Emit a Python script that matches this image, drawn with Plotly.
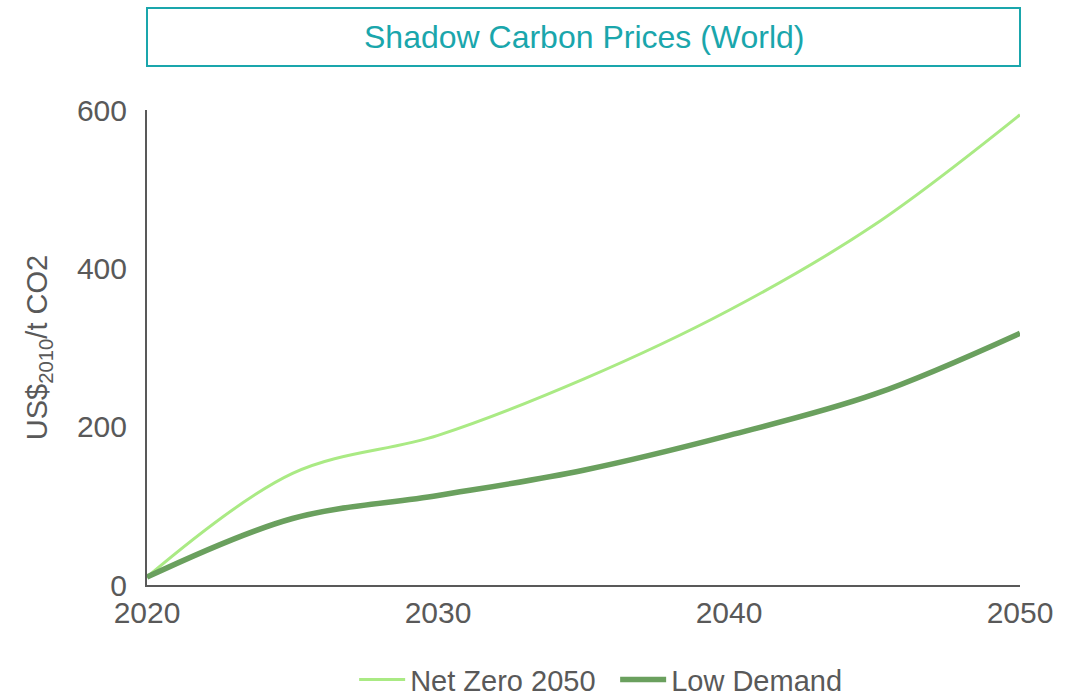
import plotly.graph_objects as go

# Shadow carbon prices, US$2010 per tonne CO2, world average
years = [2020, 2025, 2030, 2035, 2040, 2045, 2050]
net_zero_2050 = [10, 141, 189, 260, 347, 455, 594]
low_demand = [10, 84, 113, 145, 189, 241, 318]

x_ticks = [2020, 2030, 2040, 2050]
y_ticks = [0, 200, 400, 600]

FONT = "Liberation Sans, Arial, sans-serif"
GREY = "#595959"
TEAL = "#1AA6AC"

fig = go.Figure()
fig.add_trace(go.Scatter(
    x=years, y=net_zero_2050, name="Net Zero 2050", mode="lines",
    line=dict(color="#AAEA84", width=3, shape="spline", smoothing=1.0),
))
fig.add_trace(go.Scatter(
    x=years, y=low_demand, name="Low Demand", mode="lines",
    line=dict(color="#6AA05E", width=5.5, shape="spline", smoothing=1.0),
))

fig.update_layout(
    width=1083, height=697,
    margin=dict(l=147, r=63, t=110, b=112, autoexpand=False),
    plot_bgcolor="white", paper_bgcolor="white",
    font=dict(family=FONT, color=GREY, size=29),
    showlegend=True,
    legend=dict(orientation="h", x=0.568, xanchor="center", xref="container",
                y=0.025, yanchor="middle", yref="container",
                font=dict(size=29, color=GREY), itemwidth=46,
                entrywidth=200, entrywidthmode="pixels", tracegroupgap=0),
    xaxis=dict(range=[2020, 2050], tickvals=x_ticks, showgrid=False, zeroline=False,
               showline=True, linecolor=GREY, linewidth=2, ticks="",
               ticklabelstandoff=0, tickfont=dict(size=30, color=GREY)),
    yaxis=dict(range=[0, 600], tickvals=y_ticks, showgrid=False, zeroline=False,
               showline=True, linecolor=GREY, linewidth=2, ticks="",
               ticklabelstandoff=12, tickfont=dict(size=30, color=GREY),
               title=dict(text="US$<sub>2010</sub>/t CO2", standoff=21,
                          font=dict(size=29, color=GREY))),
    shapes=[dict(type="rect", xref="paper", yref="paper", x0=0, x1=1,
                 y0=1.0926, y1=1.2147, line=dict(color=TEAL, width=2),
                 fillcolor="rgba(0,0,0,0)")],
    annotations=[dict(text="Shadow Carbon Prices (World)", xref="paper", yref="paper",
                      x=0.5, y=1.1537, xanchor="center", yanchor="middle",
                      showarrow=False, font=dict(size=32, color=TEAL))],
)

fig.write_html("out.html")
